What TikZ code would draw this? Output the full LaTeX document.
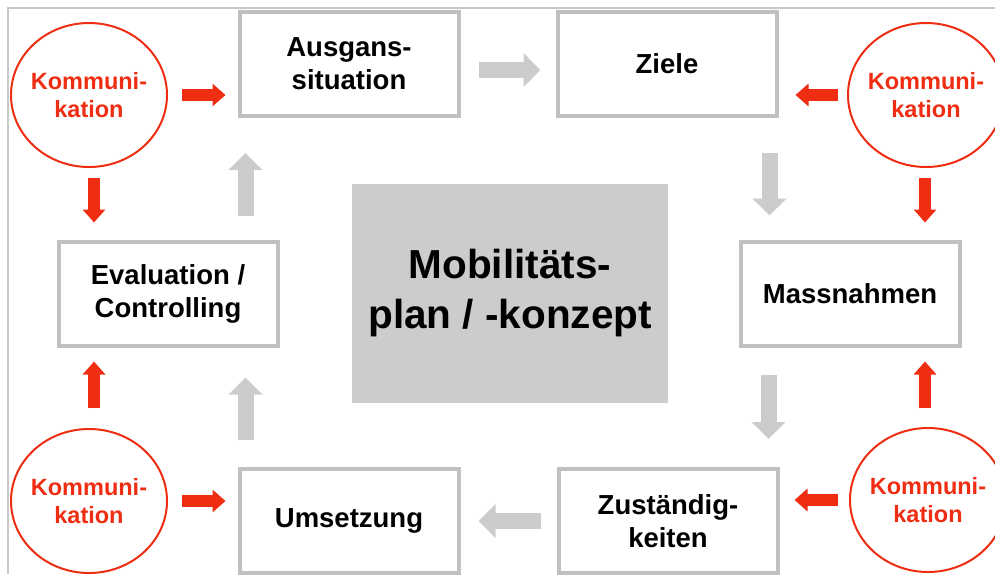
\documentclass[tikz,border=0pt]{standalone}
\usepackage{fontspec}
\setmainfont{Liberation Sans}
\usetikzlibrary{arrows.meta,shapes.geometric}
\definecolor{kred}{RGB}{238,45,18}
\definecolor{boxgray}{RGB}{192,192,192}
\definecolor{arrgray}{RGB}{204,204,204}
\definecolor{framegray}{RGB}{200,200,200}
\begin{document}
\begin{tikzpicture}[x=1pt,y=-1pt,
  phase/.style={draw=boxgray,line width=4pt,fill=white,minimum width=219pt,minimum height=104pt,
    align=center,font=\fontsize{27.5}{33}\selectfont\bfseries},
  kommtext/.style={align=center,text=kred,font=\fontsize{23.5}{28}\selectfont\bfseries},
  komm/.style={ellipse,draw=kred,line width=2pt,inner sep=0pt,minimum width=156pt,minimum height=144pt,
    label={[kommtext]center:#1}},
  grayarr/.style={line width=16pt,arrgray,-{Triangle[width=33pt,length=17pt]}},
  redarr/.style={line width=12pt,kred,-{Triangle[width=22pt,length=13pt]}}]
\useasboundingbox (0,0) rectangle (995,574);
\draw[framegray,line width=1.5pt] (8,574) -- (8,8) -- (995,8);
% Phasen
\draw (349,64) node[phase] (aus) {Ausgans-\\situation};
\draw (667,64) node[phase] (ziele) {Ziele};
\draw (850,293.5) node[phase] (mass) {Massnahmen};
\draw (668,521) node[phase] (zust) {Zuständig-\\keiten};
\draw (349,521) node[phase] (ums) {Umsetzung};
\draw (168,293.5) node[phase] (eval) {Evaluation /\\Controlling};
\draw (510,293.5) node[fill=arrgray,minimum width=316pt,minimum height=219pt,align=center,
  font=\fontsize{40.5}{50}\selectfont\bfseries] (plan) {Mobilitäts-\\plan / -konzept};
% Kommunikation
\draw (89,95) node[komm={Kommuni-\\kation}] (k1) {};
\draw (926,95) node[komm={Kommuni-\\kation}] (k2) {};
\draw (89,501) node[komm={Kommuni-\\kation}] (k3) {};
\draw (928,500) node[komm={Kommuni-\\kation}] (k4) {};
% Ablauf
\coordinate (g1) at ([xshift=-9pt]ziele.south east);
\coordinate (g2) at ([xshift=-11pt]zust.north east);
\coordinate (g3) at ([xshift=8pt]ums.north west);
\coordinate (g4) at ([xshift=8pt]aus.south west);
\draw[grayarr,shorten <=18pt,shorten >=15pt] ([yshift=-6pt]aus.east) -- ([yshift=-6pt]ziele.west);
\draw[grayarr,shorten <=35pt,shorten >=24pt] (g1) -- (g1 |- mass.north);
\draw[grayarr,shorten <=27pt,shorten >=28pt] (g2 |- mass.south) -- (g2);
\draw[grayarr,shorten <=16pt,shorten >=18pt] (zust.west) -- (zust.west -| ums.east);
\draw[grayarr,shorten <=27pt,shorten >=30pt] (g3) -- (g3 |- eval.south);
\draw[grayarr,shorten <=24pt,shorten >=35pt] (g4 |- eval.north) -- (g4);
% Kommunikationspfeile
\draw[redarr,shorten <=14pt,shorten >=12pt] (k1.east) -- (k1.east -| aus.west);
\draw[redarr,shorten <=10pt,shorten >=17pt] ([xshift=5pt]k1.south) -- ([xshift=5pt]k1.south |- eval.north);
\draw[redarr,shorten <=9pt,shorten >=17pt] (k2.west) -- (k2.west -| ziele.east);
\draw[redarr,shorten <=10pt,shorten >=17pt] ([xshift=-1pt]k2.south) -- ([xshift=-1pt]k2.south |- mass.north);
\draw[redarr,shorten <=20pt,shorten >=14pt] ([xshift=5pt]k3.north) -- ([xshift=5pt]k3.north |- eval.south);
\draw[redarr,shorten <=14pt,shorten >=12pt] (k3.east) -- (k3.east -| ums.west);
\draw[redarr,shorten <=11pt,shorten >=15pt] (k4.west) -- (k4.west -| zust.east);
\draw[redarr,shorten <=19pt,shorten >=14pt] ([xshift=-3pt]k4.north) -- ([xshift=-3pt]k4.north |- mass.south);
\end{tikzpicture}
\end{document}
